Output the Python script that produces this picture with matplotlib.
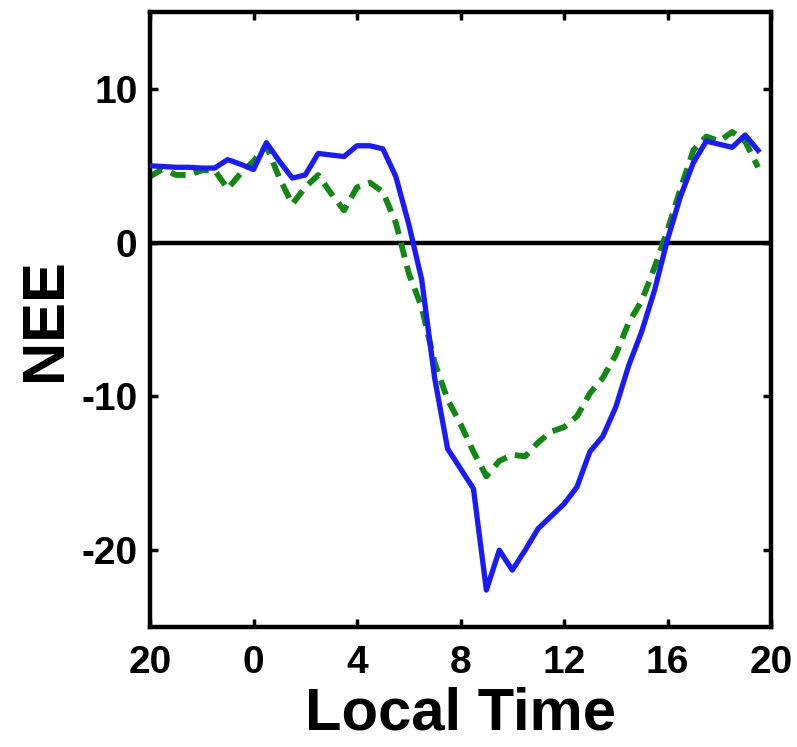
import numpy as np
import matplotlib
matplotlib.use("Agg")
import matplotlib.pyplot as plt

plt.rcParams['font.family'] = ['Liberation Sans', 'DejaVu Sans']
plt.rcParams['font.weight'] = 'bold'
plt.rcParams['axes.unicode_minus'] = False

# half-hourly time axis, hours relative to midnight (20:00 the evening before = -4)
hours = np.arange(-4, 20, 0.5)

nee_obs = [5.0, 4.95, 4.9, 4.9, 4.85, 4.85, 5.4, 5.1, 4.75, 6.5,
           5.3, 4.2, 4.4, 5.8, 5.7, 5.6, 6.3, 6.3, 6.1, 4.3,
           1.2, -2.4, -8.8, -13.4, -14.7, -16.0, -22.6, -20.0, -21.3, -20.0,
           -18.6, -17.8, -17.0, -15.9, -13.6, -12.6, -10.7, -8.0, -5.8, -3.1,
           0.2, 3.0, 5.2, 6.6, 6.4, 6.2, 7.0, 6.0]

nee_model = [4.3, 4.8, 4.4, 4.4, 4.7, 4.7, 3.5, 4.5, 5.3, 6.3,
             4.2, 2.5, 3.6, 4.4, 3.2, 2.1, 3.6, 3.9, 3.3, 1.3,
             -2.0, -4.2, -7.8, -10.2, -11.8, -13.6, -15.2, -14.2, -13.8, -13.9,
             -13.0, -12.3, -12.0, -11.3, -9.8, -8.8, -7.3, -5.2, -3.8, -1.6,
             0.8, 3.5, 6.0, 6.9, 6.6, 7.2, 6.6, 4.9]

xticks = [-4, 0, 4, 8, 12, 16, 20]
xtick_labels = ['20', '0', '4', '8', '12', '16', '20']
yticks = [-20, -10, 0, 10]

fig = plt.figure(figsize=(7.97, 7.47), dpi=100)
ax = fig.add_axes([150 / 797, 120 / 747, 621 / 797, 615 / 747])

ax.axhline(0, color='black', lw=3.2, zorder=1)
ax.plot(hours, nee_obs, color='#1a1aff', lw=3.8, zorder=3)
ax.plot(hours, nee_model, color='#118811', lw=4.2, dashes=(2.6, 1.5), zorder=2)

ax.set_xlim(-4, 20)
ax.set_ylim(-25, 15)
ax.set_xticks(xticks)
ax.set_xticklabels(xtick_labels)
ax.set_yticks(yticks)

for s in ax.spines.values():
    s.set_linewidth(3.2)
ax.tick_params(direction='in', length=6, width=2.5, top=True, right=True,
               labelsize=28)
ax.tick_params(axis='x', pad=13)
ax.tick_params(axis='y', pad=9)

ax.set_xlabel('Local Time', fontsize=43, fontweight='bold', labelpad=4)
ax.set_ylabel('NEE', fontsize=43, fontweight='bold', labelpad=6)

fig.savefig('out.png', dpi=100)
